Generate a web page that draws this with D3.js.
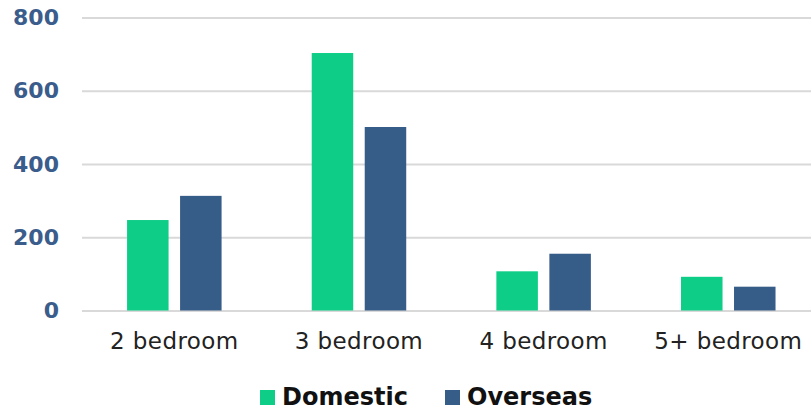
<!DOCTYPE html>
<html>
<head>
<meta charset="utf-8">
<script src="https://cdn.jsdelivr.net/npm/d3@7"></script>
<style>
  body { margin: 0; background: #fff; }
  svg { display: block; font-family: "DejaVu Sans", sans-serif; }
</style>
</head>
<body>
<svg id="chart" width="811" height="411"></svg>
<script>
// chart data
let categories = ["2 bedroom", "3 bedroom", "4 bedroom", "5+ bedroom"];
let series_names = ["Domestic", "Overseas"];
let domestic = [247, 703, 107, 92];
let overseas = [313, 501, 155, 65];
let y_ticks = [0, 200, 400, 600, 800];
let colors = ["#0dcd87", "#365c88"];

let svg = d3.select("#chart");

let rows = categories.map(function(c, i){
    return { cat: c, vals: [ {s: series_names[0], v: domestic[i]}, {s: series_names[1], v: overseas[i]} ] };
});

let y = d3.scaleLinear().domain([0, 800]).range([310.5, 17.5]);
let x0 = d3.scaleBand().domain(categories).range([82, 820.6]).padding(0);
let bw = x0.bandwidth();
let x1 = d3.scaleBand().domain(series_names)
            .range([bw/2 - 47.25, bw/2 + 47.25])
            .paddingInner(0.217);
let color = d3.scaleOrdinal().domain(series_names).range(colors);

// gridlines + y labels
let yAxis = d3.axisLeft(y).tickValues(y_ticks).tickSize(-(811 - 82)).tickPadding(23);
let yg = svg.append("g").attr("transform", "translate(82,0)").call(yAxis)
            .attr("font-family", null);
yg.select(".domain").remove();
yg.selectAll(".tick line").attr("stroke", "#d9d9d9").attr("stroke-width", 2);
yg.selectAll(".tick text")
    .attr("fill", "#3a5d8c")
    .style("font-size", "22px")
    .style("font-weight", "bold");

// bars
let groups = svg.append("g").selectAll("g")
    .data(rows)
    .enter().append("g")
        .attr("transform", function(d){ return "translate(" + x0(d.cat) + ",0)"; });

groups.selectAll("rect")
    .data(function(d){ return d.vals; })
    .enter().append("rect")
        .attr("x", function(d){ return x1(d.s); })
        .attr("y", function(d){ return y(d.v); })
        .attr("width", x1.bandwidth())
        .attr("height", function(d){ return y(0) - y(d.v); })
        .attr("fill", function(d){ return color(d.s); });

// x labels
let xAxis = d3.axisBottom(x0).tickSize(0).tickPadding(22);
let xg = svg.append("g").attr("transform", "translate(0," + y(0) + ")").call(xAxis)
            .attr("font-family", null);
xg.select(".domain").remove();
xg.selectAll(".tick text")
    .attr("fill", "#222")
    .style("font-size", "23px")
    .style("letter-spacing", "0.4px");

// legend
let legend_x = [260, 445];
let leg = svg.append("g").selectAll("g")
    .data(series_names)
    .enter().append("g")
        .attr("transform", function(d, i){ return "translate(" + legend_x[i] + ",390)"; });
leg.append("rect")
    .attr("width", 15).attr("height", 15)
    .attr("fill", function(d){ return color(d); });
leg.append("text")
    .attr("x", 22).attr("y", 15)
    .attr("fill", "#111")
    .style("font-size", "24px")
    .style("font-weight", "bold")
    .text(function(d){ return d; });
</script>
</body>
</html>
